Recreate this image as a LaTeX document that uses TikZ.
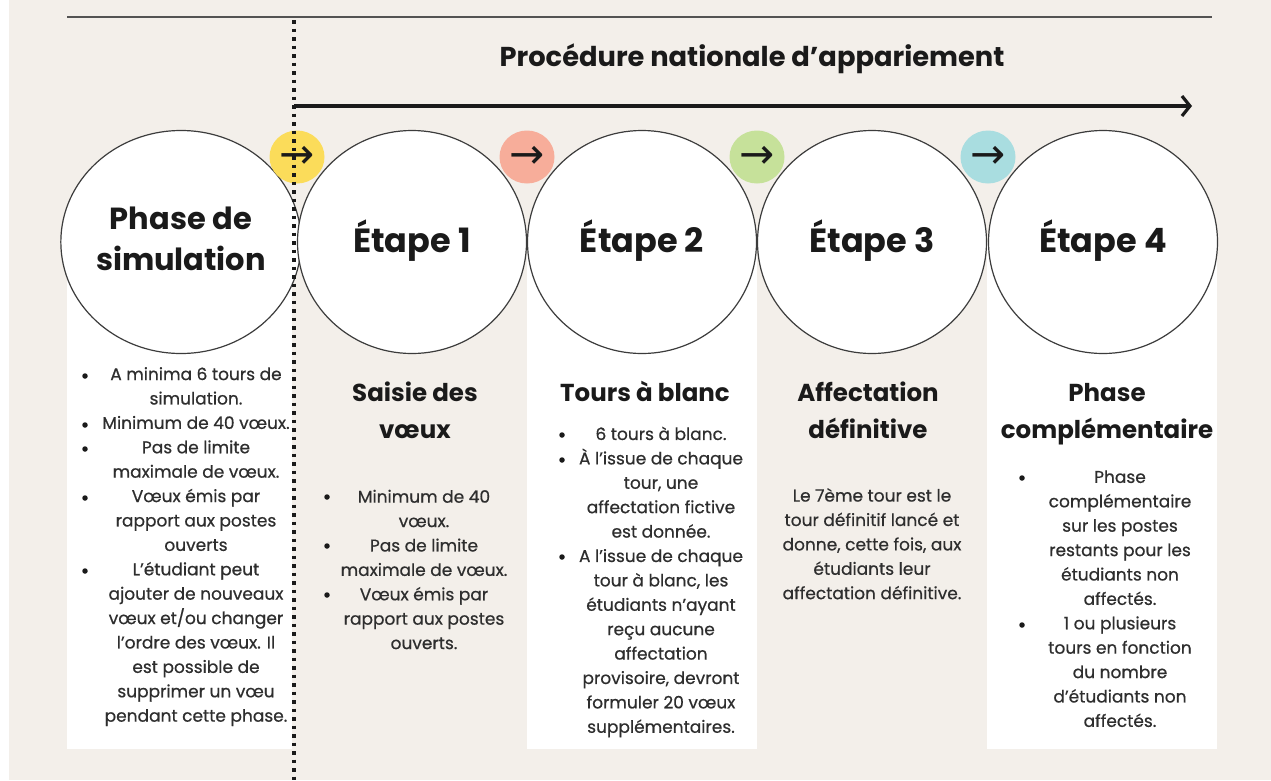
\documentclass[tikz,border=0pt]{standalone}
\usepackage{fontspec}
\setmainfont{Poppins}
\newfontfamily\bodyfont{Poppins}[FakeBold=0.6]
\newfontfamily\arrowfont{DejaVu Sans}
\usetikzlibrary{arrows.meta,shapes.geometric}
\definecolor{bg}{HTML}{F3EFEA}
\definecolor{cyellow}{HTML}{FBDC5A}
\definecolor{csalmon}{HTML}{F7AD9A}
\definecolor{cgreen}{HTML}{C6E19A}
\definecolor{ccyan}{HTML}{A9DDE0}
\definecolor{ink}{HTML}{1A1A1A}
\definecolor{bodyink}{HTML}{2E2E2E}
\begin{document}
\begin{tikzpicture}[x=1pt,y=-1pt,
  stage/.style={shape=ellipse, draw=ink!85, line width=1.2pt, fill=white, inner sep=0pt,
    minimum width=229pt, minimum height=223pt, align=center,
    font=\fontsize{30.5}{41}\selectfont\bfseries, text=ink},
  etape/.style={font=\fontsize{33.5}{41}\selectfont\bfseries},
  badge/.style={shape=ellipse, inner sep=0pt, minimum width=55pt, minimum height=53pt,
    font=\arrowfont\fontsize{42}{42}\selectfont, text=ink},
  subtitle/.style={align=center, font=\fontsize{24.5}{37}\selectfont\bfseries, text=ink, inner sep=0pt},
  bodytext/.style={align=center, font=\bodyfont\fontsize{17}{24.4}\selectfont, text=bodyink, inner sep=0pt},
  bulletmark/.style={shape=circle, fill=ink, inner sep=0pt, minimum size=5.5pt},
  colbox/.style={fill=white, draw=none},
]
% background
\fill[bg] (0,0) rectangle (1271,780);
\fill[white] (0,0) rectangle (9,780);
\useasboundingbox (0,0) rectangle (1271,780);

% white columns
\fill[colbox] (67,242) rectangle (292,749);
\fill[colbox] (527,242) rectangle (757,749);
\fill[colbox] (987,242) rectangle (1217,749);

% top rule
\coordinate (ruleL) at (67,17);
\coordinate (ruleR) at (1212,17);
\draw[line width=1.3pt, draw=ink!75] (ruleL) -- (ruleR);

% title
\node[font=\fontsize{27.3}{30}\selectfont\bfseries, text=ink, inner sep=0pt] (title) at (752,59) {Procédure nationale d’appariement};

% main arrow
\coordinate (arrS) at (294,106);
\coordinate (arrE) at (1192,106);
\draw[line width=3.2pt, draw=ink, -{Straight Barb[length=8pt,width=20pt,line width=3.2pt]}] (arrS) -- (arrE);

% stage circles
\node[stage] (s0) at (181,242) {\strut Phase de\\simulation\strut};
\node[stage, etape] (s1) at (412,242) {\strut Étape 1\strut};
\node[stage, etape] (s2) at (642,242) {\strut Étape 2\strut};
\node[stage, etape] (s3) at (872,242) {\strut Étape 3\strut};
\node[stage, etape] (s4) at (1103,242) {\strut Étape 4\strut};

% badges
\node[badge, fill=cyellow] (b1) at (297,157) {→};
\node[badge, fill=csalmon] (b2) at (527,157) {→};
\node[badge, fill=cgreen] (b3) at (757,157) {→};
\node[badge, fill=ccyan] (b4) at (988,157) {→};

% subtitles
\node[subtitle] (t1) at (415,412.5) {\strut Saisie des\\vœux\strut};
\node[subtitle] (t2) at (645,394) {\strut Tours à blanc\strut};
\node[subtitle] (t3) at (868,412.5) {\strut Affectation\\définitive\strut};
\node[subtitle] (t4) at (1107,412.5) {\strut Phase\\complémentaire\strut};

% column 1 body
\node[bodytext] (c0) at (196,546) {\strut A minima 6 tours de\\simulation.\\Minimum de 40 vœux.\\Pas de limite\\maximale de vœux.\\Vœux émis par\\rapport aux postes\\ouverts\\L’étudiant peut\\ajouter de nouveaux\\vœux et/ou changer\\l’ordre des vœux. Il\\est possible de\\supprimer un vœu\\pendant cette phase.\strut};
\node[bulletmark] (c0a) at (85,376) {};
\node[bulletmark] (c0b) at (85,425) {};
\node[bulletmark] (c0c) at (85,449) {};
\node[bulletmark] (c0d) at (85,498) {};
\node[bulletmark] (c0e) at (85,571) {};

% column 2 body
\node[bodytext] (c1) at (424,571) {\strut Minimum de 40\\vœux.\\Pas de limite\\maximale de vœux.\\Vœux émis par\\rapport aux postes\\ouverts.\strut};
\node[bulletmark] (c1a) at (327,497) {};
\node[bulletmark] (c1b) at (327,546) {};
\node[bulletmark] (c1c) at (327,595) {};

% column 3 body
\node[bodytext] (c2) at (661,581.5) {\strut 6 tours à blanc.\\À l’issue de chaque\\tour, une\\affectation fictive\\est donnée.\\A l’issue de chaque\\tour à blanc, les\\étudiants n’ayant\\reçu aucune\\affectation\\provisoire, devront\\formuler 20 vœux\\supplémentaires.\strut};
\node[bulletmark] (c2a) at (562,435) {};
\node[bulletmark] (c2b) at (562,460) {};
\node[bulletmark] (c2c) at (562,557) {};

% column 4 body
\node[bodytext] (c3) at (872,545.5) {\strut Le 7ème tour est le\\tour définitif lancé et\\donne, cette fois, aux\\étudiants leur\\affectation définitive.\strut};

% column 5 body
\node[bodytext] (c4) at (1120,600) {\strut Phase\\complémentaire\\sur les postes\\restants pour les\\étudiants non\\affectés.\\1 ou plusieurs\\tours en fonction\\du nombre\\d’étudiants non\\affectés.\strut};
\node[bulletmark] (c4a) at (1022,478) {};
\node[bulletmark] (c4b) at (1022,625) {};

% dotted separator
\coordinate (dotT) at (294,20);
\coordinate (dotB) at (294,780);
\draw[line width=3.5pt, draw=ink, dash pattern=on 3.5pt off 5pt] (dotT) -- (dotB);
\end{tikzpicture}
\end{document}
